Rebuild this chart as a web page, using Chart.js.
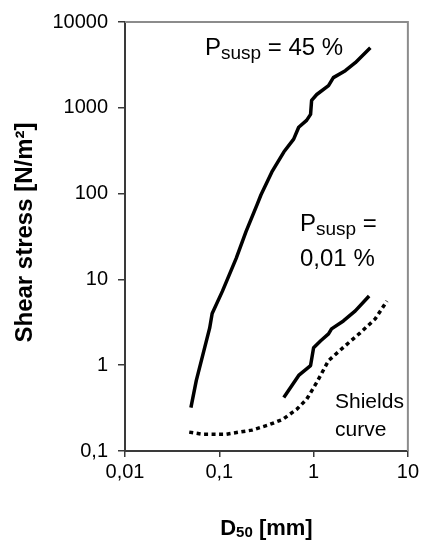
<!DOCTYPE html>
<html lang="en">
<head>
<meta charset="UTF-8">
<title>Shear stress vs D50</title>
<script src="https://cdn.jsdelivr.net/npm/chart.js@4"></script>
<style>
  html, body { margin: 0; padding: 0; background: #fff; }
  canvas { display: block; }
</style>
</head>
<body>
<canvas id="shearChart" width="422" height="545"></canvas>
<script>
// D50 [mm] and shear stress [N/m2]
const susp45D = [0.05, 0.057, 0.079, 0.084, 0.108, 0.151, 0.192, 0.251, 0.277, 0.361, 0.483, 0.615, 0.695, 0.843, 0.929, 0.953, 1.08, 1.44, 1.62, 2.17, 2.77, 4.0];
const susp45Tau = [0.32, 0.66, 2.7, 4.0, 7.3, 17.6, 36, 74, 97, 179, 305, 431, 593, 714, 839, 1218, 1429, 1816, 2248, 2710, 3352, 5000];

const susp001D = [0.483, 0.695, 0.929, 1.0, 1.19, 1.44, 1.55, 2.07, 2.77, 3.88];
const susp001Tau = [0.42, 0.76, 0.99, 1.6, 1.93, 2.32, 2.65, 3.28, 4.29, 6.4];

const shieldsD = [0.048, 0.066, 0.119, 0.163, 0.222, 0.328, 0.472, 0.662, 0.843, 1.08, 1.44, 2.17, 3.12, 4.5, 6.0];
const shieldsTau = [0.166, 0.157, 0.157, 0.166, 0.175, 0.2, 0.234, 0.306, 0.4, 0.63, 1.13, 1.69, 2.38, 3.46, 5.6];

const xTicks = [0.01, 0.1, 1, 10];
const xTickLabels = ['0,01', '0,1', '1', '10'];
const yTicks = [0.1, 1, 10, 100, 1000, 10000];
const yTickLabels = ['0,1', '1', '10', '100', '1000', '10000'];

const FONT = "'Liberation Sans', Arial, sans-serif";
const AXIS_COLOR = '#3a3a3a';
const FRAME_COLOR = '#8c8c8c';

function pts(xs, ys) {
  return xs.map((x, i) => ({ x: x, y: ys[i] }));
}

// draws text pieces one after the other (for subscripts)
function drawRuns(ctx, x, y, runs, center) {
  let total = 0;
  runs.forEach(r => {
    ctx.font = (r.bold ? 'bold ' : '') + r.size + 'px ' + FONT;
    r.w = ctx.measureText(r.t).width;
    total += r.w;
  });
  let cx = center ? x - total / 2 : x;
  runs.forEach(r => {
    ctx.font = (r.bold ? 'bold ' : '') + r.size + 'px ' + FONT;
    ctx.fillText(r.t, cx, y + (r.dy || 0));
    cx += r.w;
  });
}

const textPlugin = {
  id: 'textPlugin',
  afterDraw(chart) {
    const ctx = chart.ctx;
    const ca = chart.chartArea;
    ctx.save();

    // top and right frame
    ctx.strokeStyle = FRAME_COLOR;
    ctx.lineWidth = 2;
    ctx.beginPath();
    ctx.moveTo(ca.left, ca.top);
    ctx.lineTo(ca.right, ca.top);
    ctx.lineTo(ca.right, ca.bottom);
    ctx.stroke();

    ctx.fillStyle = '#000';
    ctx.textAlign = 'left';
    ctx.textBaseline = 'alphabetic';

    drawRuns(ctx, ca.left + 80, ca.top + 33, [
      { t: 'P', size: 24 },
      { t: 'susp', size: 19, dy: 4 },
      { t: ' = 45 %', size: 24 }
    ]);
    drawRuns(ctx, ca.left + 175, ca.top + 209, [
      { t: 'P', size: 24 },
      { t: 'susp', size: 19, dy: 4 },
      { t: ' =', size: 24 }
    ]);
    drawRuns(ctx, ca.left + 175, ca.top + 244, [{ t: '0,01 %', size: 24 }]);

    drawRuns(ctx, ca.left + 210, ca.top + 386, [{ t: 'Shields', size: 21 }]);
    drawRuns(ctx, ca.left + 210, ca.top + 414, [{ t: 'curve', size: 21 }]);

    // x axis title
    drawRuns(ctx, (ca.left + ca.right) / 2, 535, [
      { t: 'D', size: 22, bold: true },
      { t: '50', size: 15, bold: true, dy: 2 },
      { t: ' [mm]', size: 22, bold: true }
    ], true);

    // y axis title
    ctx.translate(32, (ca.top + ca.bottom) / 2 - 4);
    ctx.rotate(-Math.PI / 2);
    ctx.textAlign = 'center';
    ctx.font = 'bold 24px ' + FONT;
    ctx.fillText('Shear stress [N/m²]', 0, 0);

    ctx.restore();
  }
};

const lineStyle = {
  borderColor: '#000',
  borderWidth: 3.5,
  pointRadius: 0,
  tension: 0,
  showLine: true,
  fill: false,
  borderJoinStyle: 'round'
};

const ctx = document.getElementById('shearChart').getContext('2d');
new Chart(ctx, {
  type: 'scatter',
  data: {
    datasets: [
      Object.assign({ label: 'Psusp = 45 %', data: pts(susp45D, susp45Tau) }, lineStyle),
      Object.assign({ label: 'Psusp = 0,01 %', data: pts(susp001D, susp001Tau) }, lineStyle),
      Object.assign({ label: 'Shields curve', data: pts(shieldsD, shieldsTau) }, lineStyle,
        { borderDash: [4, 3.5], borderJoinStyle: 'miter' })
    ]
  },
  options: {
    responsive: false,
    animation: false,
    devicePixelRatio: 1,
    layout: { padding: { top: 19, right: 12, left: 0, bottom: 0 } },
    plugins: {
      legend: { display: false },
      tooltip: { enabled: false }
    },
    scales: {
      x: {
        type: 'logarithmic',
        min: 0.01,
        max: 10,
        afterBuildTicks: s => { s.ticks = xTicks.map(v => ({ value: v })); },
        afterFit: s => { s.height = 94; },
        ticks: {
          color: '#000',
          font: { family: FONT, size: 20 },
          padding: 3,
          maxRotation: 0,
          autoSkip: false,
          callback: (v, i) => xTickLabels[i]
        },
        grid: { drawOnChartArea: false, drawTicks: true, tickLength: 6, color: AXIS_COLOR, lineWidth: 1.5 },
        border: { display: true, color: AXIS_COLOR, width: 2 }
      },
      y: {
        type: 'logarithmic',
        min: 0.1,
        max: 10000,
        afterBuildTicks: s => { s.ticks = yTicks.map(v => ({ value: v })); },
        afterFit: s => { s.width = 125; },
        ticks: {
          color: '#000',
          font: { family: FONT, size: 20 },
          padding: 10,
          autoSkip: false,
          callback: (v, i) => yTickLabels[i]
        },
        grid: { drawOnChartArea: false, drawTicks: true, tickLength: 7, color: AXIS_COLOR, lineWidth: 1.5 },
        border: { display: true, color: AXIS_COLOR, width: 2 }
      }
    }
  },
  plugins: [textPlugin]
});
</script>
</body>
</html>
